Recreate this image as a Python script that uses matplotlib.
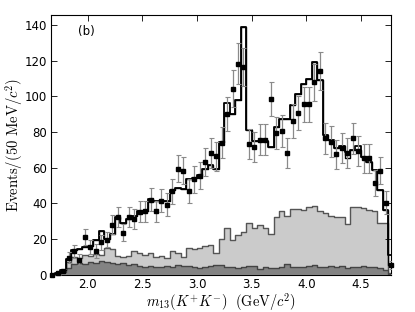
import numpy as np
import matplotlib
matplotlib.use("Agg")
import matplotlib.pyplot as plt

plt.rcParams['mathtext.fontset'] = 'cm'

# bin layout: 50 MeV bins from 1.65 GeV
bin_lo = 1.65
bin_w = 0.05

data = [0, 1, 2, 9.5, 13.3, 8.6, 21.3, 15.5, 13.4, 18.3,
        19.8, 28.2, 32.3, 23.6, 32.3, 31.1, 35.4, 35.5, 42.0, 35.5,
        41.5, 39.3, 46.7, 59.4, 58.2, 47.0, 53.4, 55.6, 63.1, 68.1,
        66.3, 74.1, 90.2, 104.3, 118.3, 116.3, 73.2, 71.5, 75.6, 75.6,
        98.4, 79.3, 80.6, 68.1, 86.2, 90.5, 95.6, 95.6, 107.7, 114.2,
        76.5, 74.5, 67.4, 71.3, 68.1, 76.5, 69.4, 65.3, 65.3, 51.3,
        58.4, 40.5, 5.4]
err = [0, 1, 1.4, 3.1, 3.6, 2.9, 4.4, 3.9, 3.7, 4.3,
       4.4, 5.3, 5.7, 4.9, 5.7, 5.6, 5.9, 6.0, 6.5, 6.0,
       6.4, 6.3, 6.8, 7.5, 7.6, 6.9, 7.3, 7.5, 7.9, 8.3,
       8.1, 8.6, 9.5, 10.2, 11.5, 10.8, 8.6, 8.5, 8.7, 8.7,
       9.5, 8.9, 9.0, 8.3, 9.3, 9.5, 9.8, 9.8, 10.4, 10.7,
       8.7, 8.6, 8.2, 8.4, 8.3, 8.7, 8.3, 8.1, 8.1, 7.2,
       7.6, 6.4, 2.3]
fit = [0.5, 1, 3, 9, 14, 14.5, 15.5, 16, 19.5, 24.5,
       20, 23, 32.5, 29, 31, 33, 35.5, 35.5, 42.4, 41.6,
       41.6, 41.6, 47.6, 48.6, 48.2, 53.6, 54, 56, 59.2, 61.6,
       59.2, 74.6, 96.5, 90.2, 98, 138.5, 81, 75, 75.2, 75.2,
       71.6, 83, 87.5, 87.2, 95, 101.5, 106.7, 109.6, 119.4, 109.2,
       78.4, 75.6, 70.9, 71.9, 68.8, 69.9, 72.2, 66.2, 63.4, 58.8,
       47.6, 36.4, 11.2]
fit_alt = [0.5, 1, 3, 9, 14, 14.5, 15.5, 16, 19.5, 24.5,
           20, 23, 32.5, 29, 31, 33, 35.5, 35.5, 42.4, 41.6,
           41.6, 41.6, 47.6, 48.6, 48.2, 53.6, 54, 56, 59.2, 61.6,
           59.2, 74.6, 90.5, 90.2, 98, 138.5, 81, 75, 75.2, 75.2,
           71.6, 83, 87.5, 87.2, 95, 101.5, 106.7, 109.6, 119.4, 109.2,
           78.4, 75.6, 70.9, 71.9, 65.2, 69.9, 69.9, 66.2, 63.4, 58.8,
           47.6, 36.4, 5.6]
bkg_light = [0, 0.5, 2, 7, 10, 9.5, 11, 10.5, 11.5, 11,
             15, 14.5, 10.5, 10, 10.5, 13.2, 12, 11, 12, 10,
             10.6, 9.3, 13.2, 12.2, 10.0, 15.2, 14.3, 15.3, 16.3, 16.8,
             12.0, 20.0, 26.0, 19.8, 22.5, 24.0, 28.9, 26.0, 28.0, 26.0,
             23.0, 32.5, 35.8, 33.0, 36.9, 37.0, 36.3, 37.8, 38.8, 35.8,
             34.4, 33.0, 32.2, 32.2, 28.7, 38.0, 38.1, 37.2, 36.5, 35.5,
             29.3, 29.0, 1.0]
bkg_dark = [0, 0.5, 1.5, 4, 6, 6.5, 6.2, 7, 6.8, 7.5,
            7, 6.5, 6, 6.8, 5.5, 6, 5.2, 4.5, 5, 4.2,
            4.6, 4.8, 4.2, 5.5, 5, 5.2, 4.5, 3.8, 4.4, 4.8,
            5.5, 5.3, 4.2, 4.5, 3.8, 4.2, 5.2, 4.7, 3.5, 4.3,
            3.8, 4, 4.5, 6, 4.3, 4.6, 4.4, 5, 5.4, 4.2,
            4.6, 5, 4.2, 4.8, 3.8, 4.4, 4.6, 5, 4.4, 4.6,
            3.6, 2.5, 0.5]

xticks = [2.0, 2.5, 3.0, 3.5, 4.0, 4.5]
xticklabels = ["2.0", "2.5", "3.0", "3.5", "4.0", "4.5"]
yticks = [0, 20, 40, 60, 80, 100, 120, 140]
yticklabels = ["0", "20", "40", "60", "80", "100", "120", "140"]

nb = len(data)
edges = bin_lo + bin_w * np.arange(nb + 1)
centers = 0.5 * (edges[:-1] + edges[1:])

fig = plt.figure(figsize=(4.15, 3.12), dpi=100)
ax = fig.add_axes([0.123, 0.119, 0.820, 0.833])


def step_xy(vals):
    xs = np.repeat(edges, 2)[1:-1]
    ys = np.repeat(np.asarray(vals, float), 2)
    return xs, ys

xs, ys = step_xy(bkg_light)
ax.fill_between(xs, 0, ys, color='#cbcbcb', lw=0, zorder=1)
ax.plot(xs, ys, color='#555555', lw=1.0, zorder=2)
xs, ys = step_xy(bkg_dark)
ax.fill_between(xs, 0, ys, color='#838383', lw=0, zorder=3)
ax.plot(xs, ys, color='#444444', lw=1.0, zorder=4)

xs, ys = step_xy(fit_alt)
ax.plot(xs, ys, color='black', lw=1.0, zorder=5)
xs, ys = step_xy(fit)
ax.plot(xs, ys, color='black', lw=1.3, zorder=6)

ax.errorbar(centers, data, yerr=err, fmt='none', ecolor='#8a8a8a',
            elinewidth=0.9, capsize=1.8, capthick=0.8, zorder=7)
ax.plot(centers, data, 's', color='black', ms=3.4, zorder=8, clip_on=False)

ax.set_xlim(1.665, 4.778)
ax.set_ylim(0, 145.5)
ax.set_xticks(xticks)
ax.set_xticklabels(xticklabels)
ax.set_yticks(yticks)
ax.set_yticklabels(yticklabels)
ax.tick_params(direction='in', top=True, right=True, length=4, width=0.6,
               labelsize=8.5, pad=3)
ax.tick_params(axis='x', pad=2)
for s in ax.spines.values():
    s.set_linewidth(0.8)

ax.set_xlabel(r"$m_{13}(K^{+}K^{-})\ \ (\mathrm{GeV}/c^{2})$", fontsize=10.4)
ax.xaxis.set_label_coords(0.5, -0.063)
ax.set_ylabel(r"$\mathrm{Events/(50\ MeV}/c^{2})$", fontsize=10.6)
ax.yaxis.set_label_coords(-0.078, 0.5)
ax.text(0.08, 0.935, "(b)", transform=ax.transAxes, fontsize=8.5,
        ha='left', va='center')

fig.savefig("out.png", dpi=100)
